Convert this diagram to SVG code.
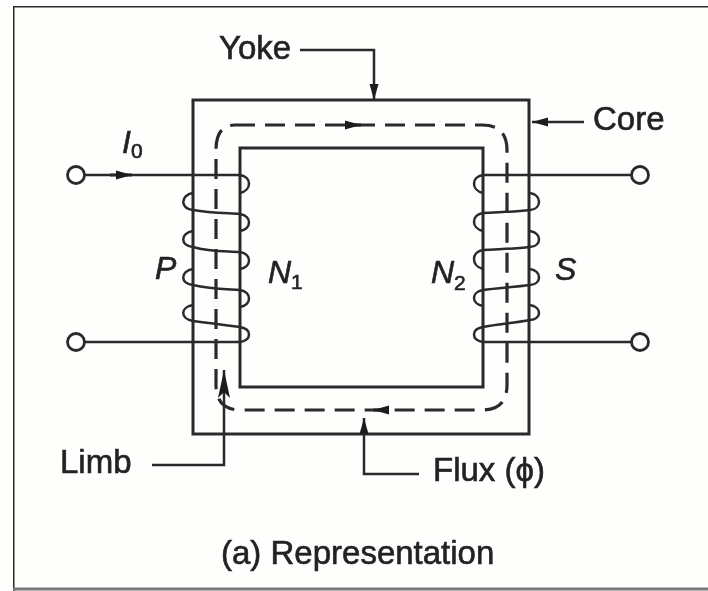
<svg xmlns="http://www.w3.org/2000/svg" width="708" height="591" viewBox="0 0 708 591">
<style>
.l{fill:none;stroke:#2a2a2a;stroke-width:3}
.h{fill:none;stroke:#2a2a2a;stroke-width:3}
.t{fill:none;stroke:#2a2a2a;stroke-width:2.5}
.c{fill:#fff;stroke:#2a2a2a;stroke-width:2.8}
.d{fill:none;stroke:#2a2a2a;stroke-width:3.2;stroke-dasharray:20 10}
text{font-family:"Liberation Sans",Arial,sans-serif;font-size:33px;fill:#222;stroke:#222;stroke-width:.6}
.i{font-style:italic;font-size:32px}
.s{font-size:21px;font-style:normal}
</style>
<defs>
<marker id="a" markerUnits="userSpaceOnUse" markerWidth="16" markerHeight="10" refX="16" refY="5" orient="auto"><path d="M0 0.5L16 5L0 9.5Z" fill="#1c1c1c"/></marker>
<marker id="b" markerUnits="userSpaceOnUse" markerWidth="28" markerHeight="14" refX="28" refY="7" orient="auto"><path d="M0 1L28 7L0 13L6 7Z" fill="#1c1c1c"/></marker>
<filter id="soft" x="0" y="0" width="100%" height="100%"><feGaussianBlur stdDeviation="0.6"/></filter>
</defs>
<rect width="708" height="591" fill="#fefefd"/>
<g filter="url(#soft)">
<g id="frame">
<path d="M708 6H13V591" fill="none" stroke="#2a2a2a" stroke-width="3"/>
<path d="M13 589H708" fill="none" stroke="#777" stroke-width="3"/>
</g>
<g id="core">
<rect x="193" y="100" width="336" height="334" class="l"/>
<rect x="240" y="148" width="243" height="239" class="h"/>
</g>
<g id="flux">
<path class="d" d="M235 125H482Q507 125 507 150V385Q507 410 482 410H241Q216 410 216 385V150Q216 125 235 125"/>
<path d="M350 125H361" class="l" marker-end="url(#a)"/>
<path d="M385 410H373" class="l" marker-end="url(#a)"/>
</g>
<g id="primary">
<path class="t" d="M85 175H240C252 177 252 190 240 193"/>
<path class="t" d="M193 193C180 195 180 209 193 210C210 213 225 213 240 214C252 216 252 229 240 231"/>
<path class="t" d="M193 231C180 233 180 246 193 247C210 252 225 251 240 252C252 254 252 267 240 269"/>
<path class="t" d="M193 269C180 271 180 284 193 285C210 289 225 289 240 290C252 292 252 305 240 307"/>
<path class="t" d="M193 305C180 307 180 319 193 321C210 323 225 325 240 327C252 329 252 340 240 342H85"/>
<path d="M110 175H132" class="l" marker-end="url(#a)"/>
<circle cx="76" cy="175" r="8.5" class="c"/>
<circle cx="76" cy="342" r="8.5" class="c"/>
</g>
<g id="secondary">
<path class="t" d="M631 175H483C471 177 471 190 483 193"/>
<path class="t" d="M530 193C542 195 542 209 530 210C515 212 498 212 483 213C471 215 471 228 483 231"/>
<path class="t" d="M530 231C542 233 542 246 530 247C515 249 498 249 483 250C471 252 471 266 483 269"/>
<path class="t" d="M530 269C542 271 542 284 530 285C515 287 498 288 483 290C471 292 471 304 483 306"/>
<path class="t" d="M530 305C542 307 542 319 530 320C515 323 498 324 483 327C471 329 471 340 483 342H631"/>
<circle cx="640" cy="175" r="8.5" class="c"/>
<circle cx="640" cy="342" r="8.5" class="c"/>
</g>
<g id="connectors">
<path class="t" d="M300 50H374V100" marker-end="url(#a)"/>
<path class="t" d="M584 122H532" marker-end="url(#a)"/>
<path class="t" d="M152 465H224V370" marker-end="url(#b)"/>
<path class="t" d="M419 474H364V418" marker-end="url(#a)"/>
</g>
<g id="labels">
<text x="219" y="59">Yoke</text>
<text x="593" y="130">Core</text>
<text x="122" y="153" class="i">I<tspan class="s" dy="5">0</tspan></text>
<text x="155" y="279" class="i">P</text>
<text x="268" y="283" class="i">N<tspan class="s" dy="6">1</tspan></text>
<text x="431" y="283" class="i">N<tspan class="s" dy="7">2</tspan></text>
<text x="555" y="280" class="i">S</text>
<text x="60" y="473">Limb</text>
<text x="433" y="481">Flux (ϕ)</text>
<text x="221" y="564">(a) Representation</text>
</g>
</g>
</svg>
